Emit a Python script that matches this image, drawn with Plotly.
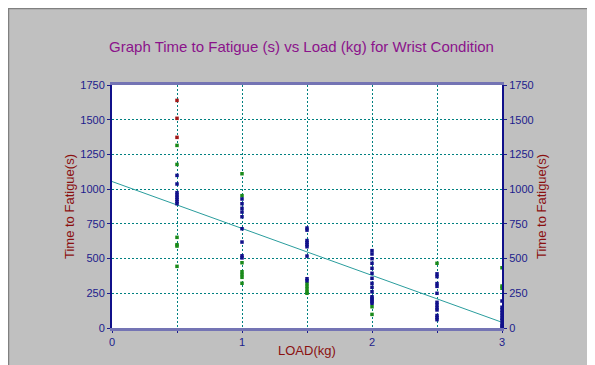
import plotly.graph_objects as go

# ---- data ----
blue_x = [0.5]*8 + [1]*9 + [1.5]*9 + [2]*15 + [2.5]*12 + [3]*10
blue_y = [1099, 1037, 975, 958, 942, 926, 910, 895,
          929, 895, 862, 835, 801, 715, 619, 520, 505,
          720, 705, 630, 615, 600, 585, 518, 355, 340,
          557, 533, 499, 466, 430, 394, 358, 322, 293, 261, 225, 214, 202, 189, 178,
          390, 370, 320, 300, 250, 185, 165, 145, 130, 90, 75, 60,
          194, 150, 130, 110, 90, 70, 55, 30, 15, 5]

green_x = [0.5]*6 + [1]*7 + [1.5]*5 + [2]*2 + [2.5]*1 + [3]*3
green_y = [1315, 1178, 653, 600, 590, 444,
           1111, 953, 470, 405, 385, 365, 322,
           320, 300, 280, 260, 250,
           153, 98,
           466,
           434, 302, 286]

red_x = [0.5, 0.5, 0.5]
red_y = [1639, 1510, 1373]

trend_x = [0, 3]
trend_y = [1055, 41]

x_tickvals = [0, 0.5, 1, 1.5, 2, 2.5, 3]
x_ticktext = ["0", "", "1", "", "2", "", "3"]
y_tickvals = [0, 250, 500, 750, 1000, 1250, 1500, 1750]

FONT = "Liberation Sans, Arial, sans-serif"
NAVY = "#1c1c8c"
TEAL = "#008080"
DARKRED = "#8b1010"
DASH = "2px,2px"

fig = go.Figure()
fig.add_trace(go.Scatter(x=trend_x, y=trend_y, mode="lines",
                         line=dict(color="#2a9d9d", width=1), hoverinfo="skip"))
fig.add_trace(go.Scatter(x=green_x, y=green_y, mode="markers",
                         marker=dict(symbol="square", size=3.5, color="#1a8a1a")))
fig.add_trace(go.Scatter(x=blue_x, y=blue_y, mode="markers",
                         marker=dict(symbol="square", size=3.5, color="#10108a")))
fig.add_trace(go.Scatter(x=red_x, y=red_y, mode="markers",
                         marker=dict(symbol="square", size=3.5, color="#a01818")))
# invisible trace to carry the right-hand axis
fig.add_trace(go.Scatter(x=[0], y=[0], yaxis="y2", mode="markers",
                         marker=dict(opacity=0), hoverinfo="skip"))

# the page places the figure 8px from the top-left corner
W, H = 587, 357
L, R, T, B = 104, 93, 77, 37
pw, ph = W - L - R, H - T - B

def px(x):
    return (x - L) / pw

def py(y):
    return (H - B - y) / ph

fig.update_layout(
    width=W, height=H,
    margin=dict(l=L, r=R, t=T, b=B, autoexpand=False),
    paper_bgcolor="#c0c0c0",
    plot_bgcolor="white",
    showlegend=False,
    font=dict(family=FONT, size=11, color=NAVY),
    title=dict(text="Graph Time to Fatigue (s) vs Load (kg) for Wrist Condition",
               x=0.5, xanchor="center", y=1 - 39 / H, yanchor="middle",
               automargin=False,
               font=dict(family=FONT, size=15, color="#8b138b")),
    xaxis=dict(range=[0, 3], tickvals=x_tickvals, ticktext=x_ticktext,
               automargin=False,
               showgrid=True, gridcolor=TEAL, griddash=DASH, gridwidth=1,
               zeroline=False, showline=True, linecolor="#7474b4", linewidth=3,
               mirror=True, ticks="outside", ticklen=2, tickcolor=NAVY,
               tickfont=dict(family=FONT, size=11, color=NAVY)),
    yaxis=dict(range=[0, 1750], tickvals=y_tickvals, automargin=False,
               showgrid=True, gridcolor=TEAL, griddash=DASH, gridwidth=1,
               zeroline=False, showline=True, linecolor="#10108a", linewidth=2,
               ticks="outside", ticklen=3, tickcolor=NAVY,
               tickfont=dict(family=FONT, size=11, color=NAVY),
               title=dict(text="Time to Fatigue(s)", standoff=3,
                          font=dict(family=FONT, size=13, color=DARKRED))),
    yaxis2=dict(range=[0, 1750], tickvals=y_tickvals, overlaying="y", side="right",
                automargin=False,
                showgrid=False, zeroline=False, showline=True,
                linecolor="#10108a", linewidth=2,
                ticks="outside", ticklen=3, tickcolor=NAVY,
                tickfont=dict(family=FONT, size=11, color=NAVY),
                title=dict(text="Time to Fatigue(s)", standoff=3,
                           font=dict(family=FONT, size=13, color=DARKRED))),
    annotations=[
        dict(text="LOAD(kg)", xref="paper", yref="paper", x=0.5, y=py(342),
             xanchor="center", yanchor="middle", showarrow=False,
             font=dict(family=FONT, size=13, color=DARKRED)),
    ],
    shapes=[
        dict(type="rect", xref="paper", yref="paper",
             x0=px(0.5), x1=px(W + 5), y0=py(0.5), y1=py(H + 5),
             fillcolor="rgba(0,0,0,0)", line=dict(color="#808080", width=1.5),
             layer="above"),
    ],
)

fig.write_html("out.html")
